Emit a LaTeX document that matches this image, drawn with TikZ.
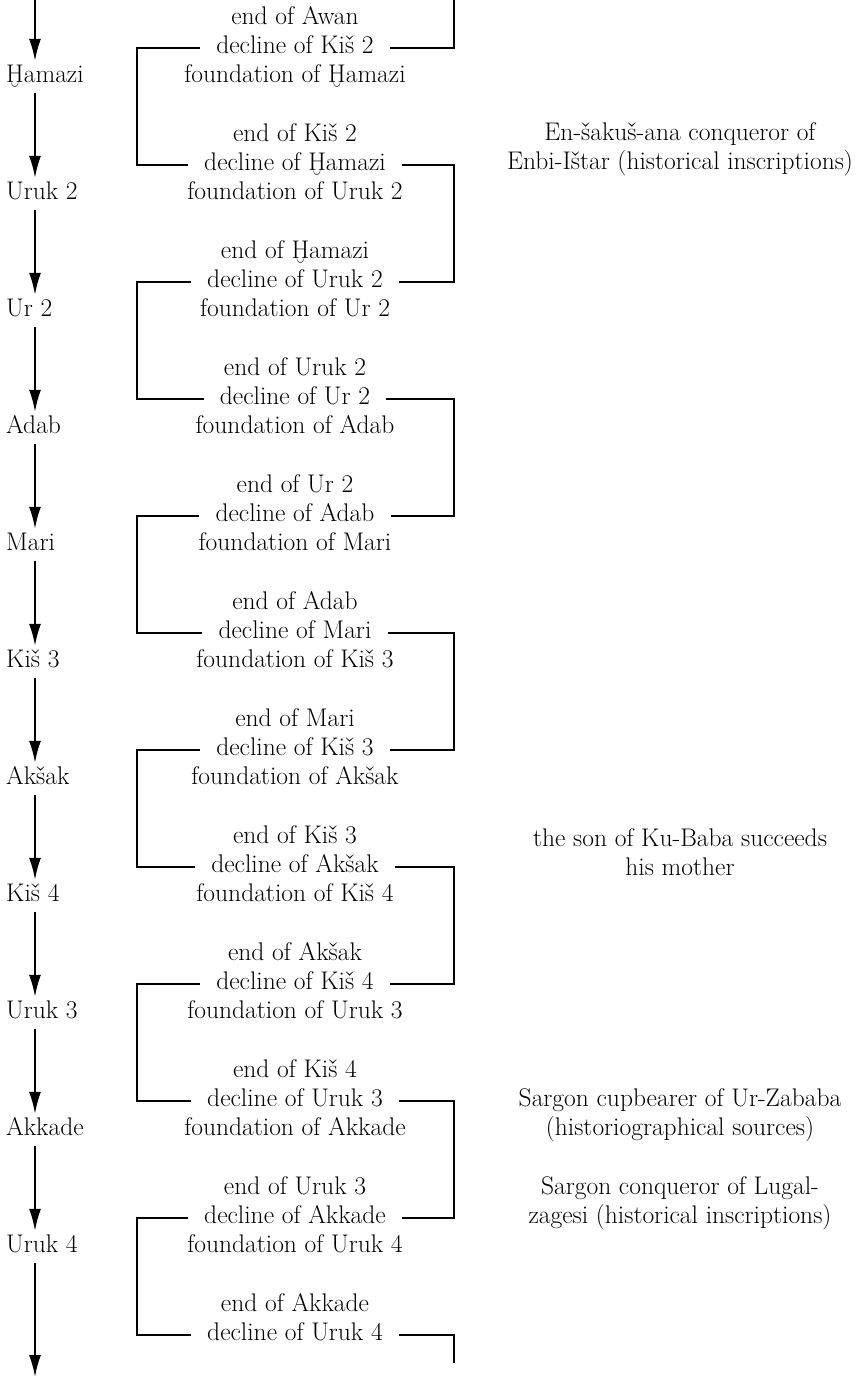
\documentclass[tikz,border=0pt]{standalone}
\usetikzlibrary{arrows.meta}
% H with a breve below (transliteration of the Sumerian velar fricative)
\newcommand{\Hbr}{\leavevmode\setbox0\hbox{H}\rlap{\hbox to\wd0{\hss\raisebox{-0.72em}{\char"02D8}\hss}}H}
\begin{document}
\begin{tikzpicture}[x=1pt,y=-1pt,
  every node/.style={font=\fontsize{25.5}{29}\selectfont},
  ev/.style={text height=17pt, text depth=6pt, inner xsep=16pt, inner ysep=0pt},
  lab/.style={text height=17pt, text depth=6pt, anchor=west, inner xsep=0pt, inner ysep=4.5pt},
  note/.style={align=center, inner sep=0pt},
  flow/.style={-{Latex[length=22pt,width=12pt]}, line width=1.8pt},
  link/.style={line width=1.4pt}]

\fill[white] (0,0) rectangle (855,1377);
\useasboundingbox (0,0) rectangle (855,1377);

% columns
\coordinate (ax) at (35,0);
\coordinate (xl) at (137,0);
\coordinate (xr) at (454,0);
\coordinate (top) at (454,0);
\coordinate (bot) at (454,1363);
\coordinate (start) at (35,0);
\coordinate (finish) at (35,1377);

% dynasties in succession
\foreach \name [count=\i from 0] in {\Hbr amazi, Uruk 2, Ur 2, Adab, Mari, Kiš 3, Akšak, Kiš 4, Uruk 3, Akkade, Uruk 4}{
  \pgfmathsetmacro{\y}{77+117*\i}
  \node[lab] (l\i) at (6,\y) {\name};
}

% end / decline / foundation blocks
\foreach \e/\d/\f [count=\k from 0] in {
  Awan/Kiš 2/\Hbr amazi,
  Kiš 2/\Hbr amazi/Uruk 2,
  \Hbr amazi/Uruk 2/Ur 2,
  Uruk 2/Ur 2/Adab,
  Ur 2/Adab/Mari,
  Adab/Mari/Kiš 3,
  Mari/Kiš 3/Akšak,
  Kiš 3/Akšak/Kiš 4,
  Akšak/Kiš 4/Uruk 3,
  Kiš 4/Uruk 3/Akkade,
  Uruk 3/Akkade/Uruk 4}{
  \pgfmathsetmacro{\y}{77+117*\k}
  \node[ev] (e\k) at (295,\y-58) {end of \e};
  \node[ev] (d\k) at (295,\y-29) {decline of \d};
  \node[ev] (f\k) at (295,\y) {foundation of \f};
}
\node[ev] (e11) at (295,1306) {end of Akkade};
\node[ev] (d11) at (295,1335) {decline of Uruk 4};

% remarks
\node[note] (n1) at (680,149.5) {En-šakuš-ana conqueror of\\Enbi-Ištar (historical inscriptions)};
\node[note] (n2) at (680,852.5) {the son of Ku-Baba succeeds\\his mother};
\node[note] (n3) at (680,1115.5) {Sargon cupbearer of Ur-Zababa\\(historiographical sources)};
\node[note] (n4) at (680,1203.5) {Sargon conqueror of Lugal-\\zagesi (historical inscriptions)};

% succession arrows
\draw[flow] (start) -- (l0.north -| ax);
\foreach \i in {0,...,9}{
  \pgfmathtruncatemacro{\n}{\i+1}
  \draw[flow] (l\i.south -| ax) -- (l\n.north -| ax);
}
\draw[flow] (l10.south -| ax) -- (finish);

% brackets joining consecutive declines
\draw[link] (d0.east) -| (top);
\foreach \k in {0,...,10}{
  \pgfmathtruncatemacro{\n}{\k+1}
  \ifodd\k
    \draw[link] (d\k.east) -- (d\k.east -| xr) |- (d\n.east);
  \else
    \draw[link] (d\k.west) -- (d\k.west -| xl) |- (d\n.west);
  \fi
}
\draw[link] (d11.east) -| (bot);
\end{tikzpicture}
\end{document}
